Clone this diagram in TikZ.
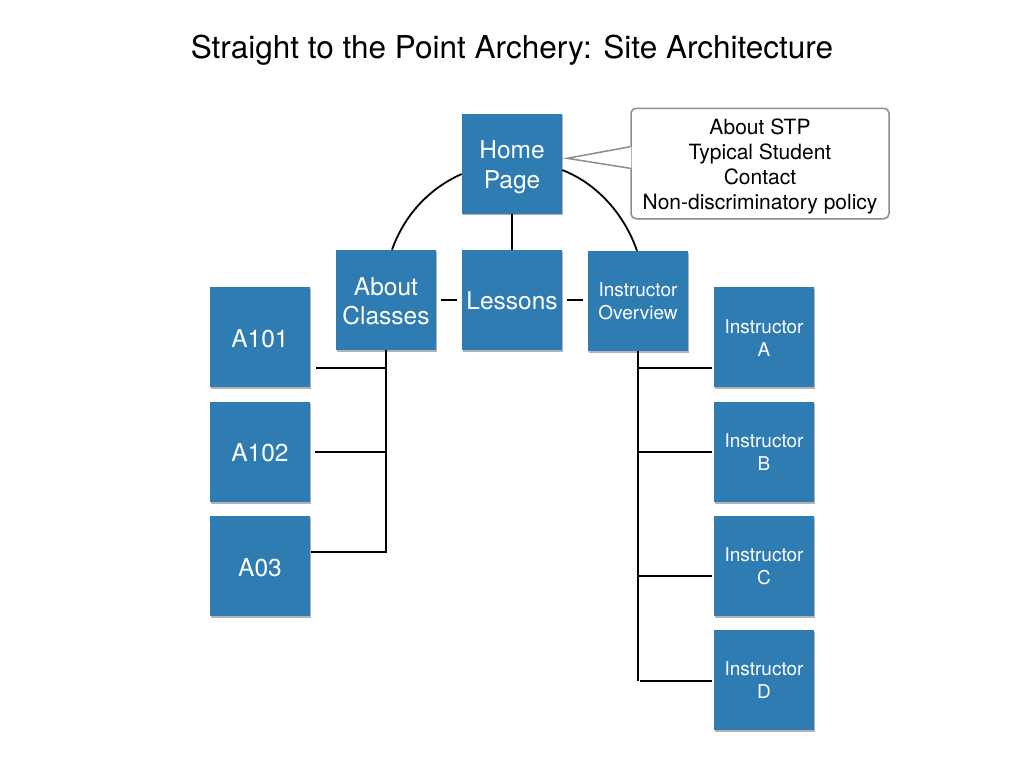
\documentclass[tikz,border=0pt]{standalone}
\usepackage{fontspec}
\setmainfont{TeX Gyre Heros}
\usetikzlibrary{shadows,calc}
\definecolor{boxblue}{RGB}{46,124,177}
\definecolor{callgray}{RGB}{140,140,140}
\newcommand{\lowr}[2]{\raisebox{-#1pt}[\height][\depth]{#2}}
\begin{document}
\begin{tikzpicture}[x=1pt,y=-1pt,
  pg/.style={draw=none, fill=boxblue, minimum width=100pt, minimum height=100pt,
    inner sep=0pt, text=white, align=center, font=\fontsize{24.5}{29.5}\selectfont,
    drop shadow={shadow xshift=0.8pt, shadow yshift=-1.8pt, opacity=0.3, fill=black}},
  sm/.style={font=\fontsize{19}{23.5}\selectfont},
  ln/.style={line width=1.8pt, black},
  callline/.style={draw=callgray, line width=1.5pt}
]
\useasboundingbox (0,0) rectangle (1024,768);
\fill[white] (0,0) rectangle (1024,768);

\node[font=\fontsize{31.5}{36}\selectfont] (title) at (512,50) {Straight to the Point Archery: Site Architecture};

% boxes
\node[pg, font=\fontsize{24.5}{30}\selectfont] (home) at (512,163.5) {\lowr{3.5}{Home}\\\lowr{3.5}{Page}};
\node[pg] (about) at (386,300) {\lowr{2}{About}\\\lowr{1.5}{Classes}};
\node[pg] (lessons) at (512,300) {\lowr{1}{Lessons}};
\node[pg,sm] (over) at (638,301) {Instructor\\Overview};
\node[pg] (a101) at (260,337) {\lowr{2}{A101}};
\node[pg] (a102) at (260,452) {\lowr{1}{A102}};
\node[pg] (a03) at (260,566) {\lowr{1.5}{A03}};
\node[pg,sm] (ia) at (764,337) {\lowr{1}{Instructor}\\\lowr{1}{A}};
\node[pg,sm] (ib) at (764,452) {Instructor\\B};
\node[pg,sm] (ic) at (764,566) {Instructor\\C};
\node[pg,sm] (id) at (764,680) {Instructor\\D};

% callout
\node[callline, fill=white, rounded corners=5pt, minimum width=258pt, minimum height=110.5pt,
  inner sep=0pt, align=center, font=\fontsize{21}{25}\selectfont] (call) at (760,163.5)
  {\lowr{3}{About STP}\\\lowr{3}{Typical Student}\\\lowr{3}{Contact}\\\lowr{3}{Non-discriminatory policy}};
\coordinate (tip) at ($(home.east)+(5,-5.2)$);
\coordinate (bt) at ($(call.west)+(0,-16.8)$);
\coordinate (bb) at ($(call.west)+(0,4.8)$);
\fill[white] ($(bt)+(1.2,0.3)$) -- (tip) -- ($(bb)+(1.2,-0.3)$) -- cycle;
\draw[callline, line join=miter] (bt) -- (tip) -- (bb);

% top connectors
\draw[ln] (home.south) -- (lessons.north);
\draw[ln] ($(home.west)+(0,10.5)$) .. controls +(-33,14.4) and +(12,-34) .. ($(about.north)+(6,0)$);
\draw[ln] ($(home.east)+(0,6.5)$) .. controls +(35.4,13.8) and +(-12.5,-36) .. ($(over.north)+(-1,0)$);
\draw[ln] ($(about.east)+(5,0)$) -- ($(lessons.west)+(-5,0)$);
\draw[ln] ($(lessons.east)+(5,0)$) -- ($(over.west|-lessons.east)+(-5,0)$);

% left tree
\coordinate (lj1) at ($(a101.east)+(6,31)$);
\coordinate (lj2) at ($(a102.east)+(5,0)$);
\coordinate (lj3) at ($(a03.east)+(1,-14)$);
\draw[ln] (about.south) -- (about.south |- lj3);
\draw[ln] (lj1) -- (lj1 -| about.south);
\draw[ln] (lj2) -- (lj2 -| about.south);
\draw[ln] (lj3) -- ([xshift=0.9pt]lj3 -| about.south);

% right tree
\coordinate (rj1) at ($(ia.west)+(-2,31)$);
\coordinate (rj2) at ($(ib.west)+(-2,0)$);
\coordinate (rj3) at ($(ic.west)+(-2,10)$);
\coordinate (rj4) at ($(id.west)+(-2,1)$);
\draw[ln] (over.south) -- (over.south |- rj4);
\draw[ln] (rj1 -| over.south) -- (rj1);
\draw[ln] (rj2 -| over.south) -- (rj2);
\draw[ln] (rj3 -| over.south) -- (rj3);
\draw[ln] ([xshift=2pt]rj4 -| over.south) -- (rj4);
\end{tikzpicture}
\end{document}
